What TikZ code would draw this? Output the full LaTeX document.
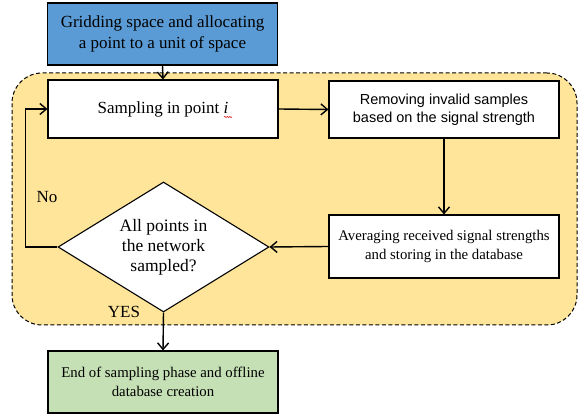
\documentclass[tikz,border=0pt]{standalone}
\usepackage{fontspec}
\setmainfont{Liberation Serif}
\newfontfamily\arialfont{Liberation Sans}
\usetikzlibrary{arrows.meta,shapes.geometric,decorations.pathmorphing}
\definecolor{stepblue}{RGB}{91,155,213}
\definecolor{endgreen}{RGB}{197,224,180}
\definecolor{phaseyellow}{RGB}{255,229,153}
\tikzset{
  flowbox/.style={draw=black, line width=1.1pt, fill=white, minimum width=230pt,
    inner sep=0pt, align=center, font=\fontsize{17}{21}\selectfont},
  decision/.style={draw=black, line width=1.1pt, fill=white, diamond, shape aspect=1.62,
    minimum width=211pt, minimum height=130pt, inner sep=0pt, align=center,
    font=\fontsize{17.5}{20}\selectfont},
  flow/.style={line width=1.4pt, -{Straight Barb[length=6.5pt,width=11pt,line width=1.4pt]}},
  region/.style={draw=black, line width=1pt, fill=phaseyellow, rounded corners=30pt,
    dash pattern=on 4pt off 2.5pt},
  tag/.style={inner sep=0pt, font=\fontsize{17}{20}\selectfont}
}
\begin{document}
\begin{tikzpicture}[x=1pt,y=1pt]
  \useasboundingbox (0,0) rectangle (579,417);

  % dashed frame of the sampling loop
  \node[region, minimum width=565pt, minimum height=252pt] (phase) at (294.5,218) {};

  % process steps
  \node[flowbox, fill=stepblue, minimum height=62pt] (grid) at (162.5,383)
    {Gridding space and allocating\\a point to a unit of space};
  \node[flowbox, minimum height=58pt] (samp) at (163,308)
    {Sampling in point \textit{i}};
  \node[flowbox, minimum height=57pt, font=\arialfont\fontsize{14.5}{18}\selectfont] (remov) at (444,307.5)
    {Removing invalid samples\\based on the signal strength};
  \node[flowbox, minimum height=63pt, font=\fontsize{14.8}{19}\selectfont] (avg) at (444,170.5)
    {Averaging received signal strengths\\and storing in the database};
  \node[decision] (dia) at (163.5,170) {All points in\\the network\\sampled?};
  \node[flowbox, fill=endgreen, minimum height=62pt, font=\fontsize{14.8}{19}\selectfont] (endb) at (163,35)
    {End of sampling phase and offline\\database creation};

  % spell-check wave under the index
  \draw[red!80!black, line width=0.5pt, decorate,
        decoration={snake, amplitude=0.6pt, segment length=2.5pt}]
    (224,300) -- (232,300);

  % connectors
  \draw[flow] (grid.south) -- (samp.north);
  \draw[flow] (samp.east) -- (remov.west);
  \draw[flow] (remov.south) -- (avg.north);
  \draw[flow] (avg.west) -- (dia.east);
  \draw[flow] (dia.west) -- ++(-32,0) |- (samp.west);
  \draw[flow] (dia.south) -- (endb.north);

  % branch labels
  \node[tag] (no) at (47,220) {No};
  \node[tag] (yes) at (124,105) {YES};
\end{tikzpicture}
\end{document}
